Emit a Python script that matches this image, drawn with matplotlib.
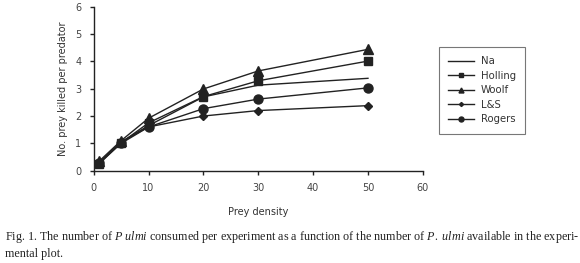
import matplotlib
matplotlib.use("Agg")
import matplotlib.pyplot as plt

prey_density = [1, 5, 10, 20, 30, 50]
na = [0.30, 1.05, 1.65, 2.70, 3.13, 3.38]
holling = [0.25, 1.02, 1.75, 2.71, 3.29, 4.01]
woolf = [0.35, 1.10, 1.92, 2.99, 3.65, 4.44]
ls_vals = [0.30, 1.05, 1.60, 2.00, 2.20, 2.38]
rogers = [0.28, 1.00, 1.60, 2.27, 2.62, 3.03]

plt.rcParams['mathtext.fontset'] = 'custom'
plt.rcParams['mathtext.it'] = 'Liberation Serif:italic'
plt.rcParams['mathtext.rm'] = 'Liberation Serif'

fig = plt.figure(figsize=(5.8, 2.63), dpi=100)
ax = fig.add_axes([0.1616, 0.351, 0.5674, 0.6235])

c = '#222222'
ax.plot(prey_density, na, '-', color=c, lw=1.0, label='Na')
ax.plot(prey_density, holling, '-s', color=c, lw=1.0, ms=6, label='Holling')
ax.plot(prey_density, woolf, '-^', color=c, lw=1.0, ms=6.5, label='Woolf')
ax.plot(prey_density, ls_vals, '-D', color=c, lw=1.0, ms=3.8, label='L&S')
ax.plot(prey_density, rogers, '-o', color=c, lw=1.0, ms=6.5, label='Rogers')

ax.set_xlim(0, 60)
ax.set_ylim(0, 6)
ax.set_xticks(range(0, 61, 10))
ax.set_yticks(range(0, 7))
for s in ['top', 'right']:
    ax.spines[s].set_visible(False)
for s in ['left', 'bottom']:
    ax.spines[s].set_color(c)
    ax.spines[s].set_linewidth(1.0)
ax.tick_params(direction='out', length=3, width=1, colors=c, labelsize=7, labelcolor='#444444', pad=6)

ax.set_xlabel('Prey density', fontsize=7, color='#333333', labelpad=10)
ax.set_ylabel('No. prey killed per predator', fontsize=7, color='#333333', labelpad=5)

leg = ax.legend(loc='upper left', bbox_to_anchor=(439/580, 1-47/263), bbox_transform=fig.transFigure,
                fontsize=7.3, frameon=True,
                fancybox=False, edgecolor='#555555', markerscale=0.55,
                handlelength=2.6, labelspacing=0.45, borderpad=0.9, handletextpad=0.6,
                borderaxespad=0)
leg.get_frame().set_linewidth(0.8)
for t in leg.get_texts():
    t.set_color('#333333')

fig.text(0.009, 0.087,
         r'Fig. 1. The number of $P\ ulmi$ consumed per experiment as a function of the number of $P.\ ulmi$ available in the experi-',
         fontsize=8.7, family='Liberation Serif', color='#222222')
fig.text(0.009, 0.022, 'mental plot.', fontsize=8.7, family='Liberation Serif', color='#222222')

fig.savefig('out.png', dpi=100)
